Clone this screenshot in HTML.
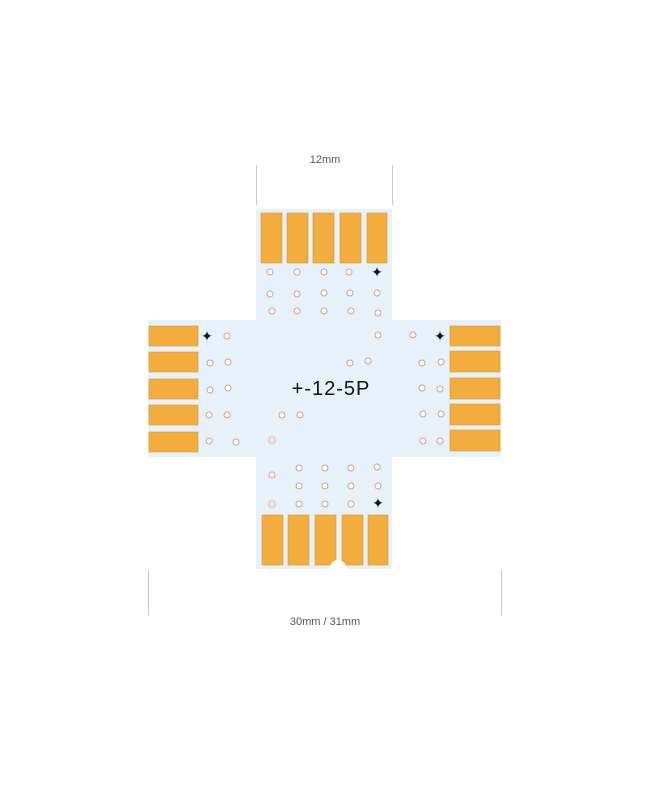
<!DOCTYPE html>
<html><head><style>
body{margin:0;background:#fff;width:650px;height:800px;overflow:hidden}
</style></head><body>
<svg width="650" height="800" xmlns="http://www.w3.org/2000/svg">
<g stroke="#c8c8c8" stroke-width="1">
<line x1="256.5" y1="165" x2="256.5" y2="205"/><line x1="392.5" y1="165" x2="392.5" y2="205"/>
<line x1="148.5" y1="570" x2="148.5" y2="615"/><line x1="501.5" y1="570" x2="501.5" y2="615"/>
</g>
<text x="325" y="163" font-family="Liberation Sans,sans-serif" font-size="11" fill="#555" text-anchor="middle">12mm</text>
<text x="325" y="625" font-family="Liberation Sans,sans-serif" font-size="11" fill="#555" text-anchor="middle">30mm / 31mm</text>
<g fill="#e6f1f9">
<rect x="256" y="209" width="136" height="360"/>
<rect x="148" y="320" width="353" height="137"/>
</g>
<g fill="#f2ad3e" stroke="#d99a30" stroke-width="0.6">
<rect x="261" y="213" width="21" height="50"/><rect x="287" y="213" width="21" height="50"/><rect x="313" y="213" width="21" height="50"/><rect x="340" y="213" width="21" height="50"/><rect x="367" y="213" width="20" height="50"/>
<rect x="262" y="515" width="21" height="50"/><rect x="288" y="515" width="21" height="50"/><rect x="315" y="515" width="21" height="50"/><rect x="342" y="515" width="21" height="50"/><rect x="368" y="515" width="20" height="50"/>
<rect x="149" y="326" width="49" height="20"/><rect x="149" y="352" width="49" height="20"/><rect x="149" y="379" width="49" height="20"/><rect x="149" y="405" width="49" height="20"/><rect x="149" y="432" width="49" height="20"/>
<rect x="450" y="326" width="50" height="20"/><rect x="450" y="351" width="50" height="21"/><rect x="450" y="378" width="50" height="21"/><rect x="450" y="404" width="50" height="21"/><rect x="450" y="430" width="50" height="21"/>
</g>
<circle cx="338" cy="568" r="8" fill="#fff"/>
<g fill="#fff" stroke="#c9a48a" stroke-width="1">
<circle cx="270" cy="272" r="3"/><circle cx="297" cy="272" r="3"/><circle cx="324" cy="272" r="3"/><circle cx="349" cy="272" r="3"/>
<circle cx="270" cy="294" r="3"/><circle cx="297" cy="294" r="3"/><circle cx="324" cy="293" r="3"/><circle cx="350" cy="293" r="3"/><circle cx="377" cy="293" r="3"/>
<circle cx="272" cy="311" r="3"/><circle cx="297" cy="311" r="3"/><circle cx="324" cy="311" r="3"/><circle cx="351" cy="311" r="3"/><circle cx="378" cy="313" r="3"/>
<circle cx="227" cy="336" r="3"/><circle cx="378" cy="335" r="3"/><circle cx="413" cy="335" r="3"/>
<circle cx="210" cy="363" r="3"/><circle cx="228" cy="362" r="3"/><circle cx="350" cy="363" r="3"/><circle cx="368" cy="361" r="3"/><circle cx="422" cy="363" r="3"/><circle cx="441" cy="362" r="3"/>
<circle cx="210" cy="390" r="3"/><circle cx="228" cy="388" r="3"/><circle cx="422" cy="388" r="3"/><circle cx="440" cy="389" r="3"/>
<circle cx="209" cy="415" r="3"/><circle cx="227" cy="415" r="3"/><circle cx="282" cy="415" r="3"/><circle cx="300" cy="415" r="3"/><circle cx="423" cy="414" r="3"/><circle cx="441" cy="414" r="3"/>
<circle cx="209" cy="441" r="3"/><circle cx="236" cy="442" r="3"/><circle cx="272" cy="440" r="3"/><circle cx="423" cy="441" r="3"/><circle cx="440" cy="441" r="3"/>
<circle cx="299" cy="468" r="3"/><circle cx="325" cy="468" r="3"/><circle cx="351" cy="468" r="3"/><circle cx="377" cy="467" r="3"/>
<circle cx="272" cy="475" r="3"/><circle cx="299" cy="486" r="3"/><circle cx="325" cy="486" r="3"/><circle cx="351" cy="486" r="3"/><circle cx="378" cy="486" r="3"/>
<circle cx="272" cy="504" r="3"/><circle cx="299" cy="504" r="3"/><circle cx="325" cy="504" r="3"/><circle cx="351" cy="504" r="3"/>
</g>
<g font-family="DejaVu Sans,sans-serif" font-size="14" fill="#111" text-anchor="middle" font-weight="bold">
<text x="377" y="277">✦</text><text x="207" y="341">✦</text><text x="440" y="341">✦</text><text x="378" y="508">✦</text>
</g>
<text x="331" y="395" font-family="Liberation Sans,sans-serif" font-size="20" letter-spacing="1" fill="#111" text-anchor="middle">+-12-5P</text>
</svg>
</body></html>
